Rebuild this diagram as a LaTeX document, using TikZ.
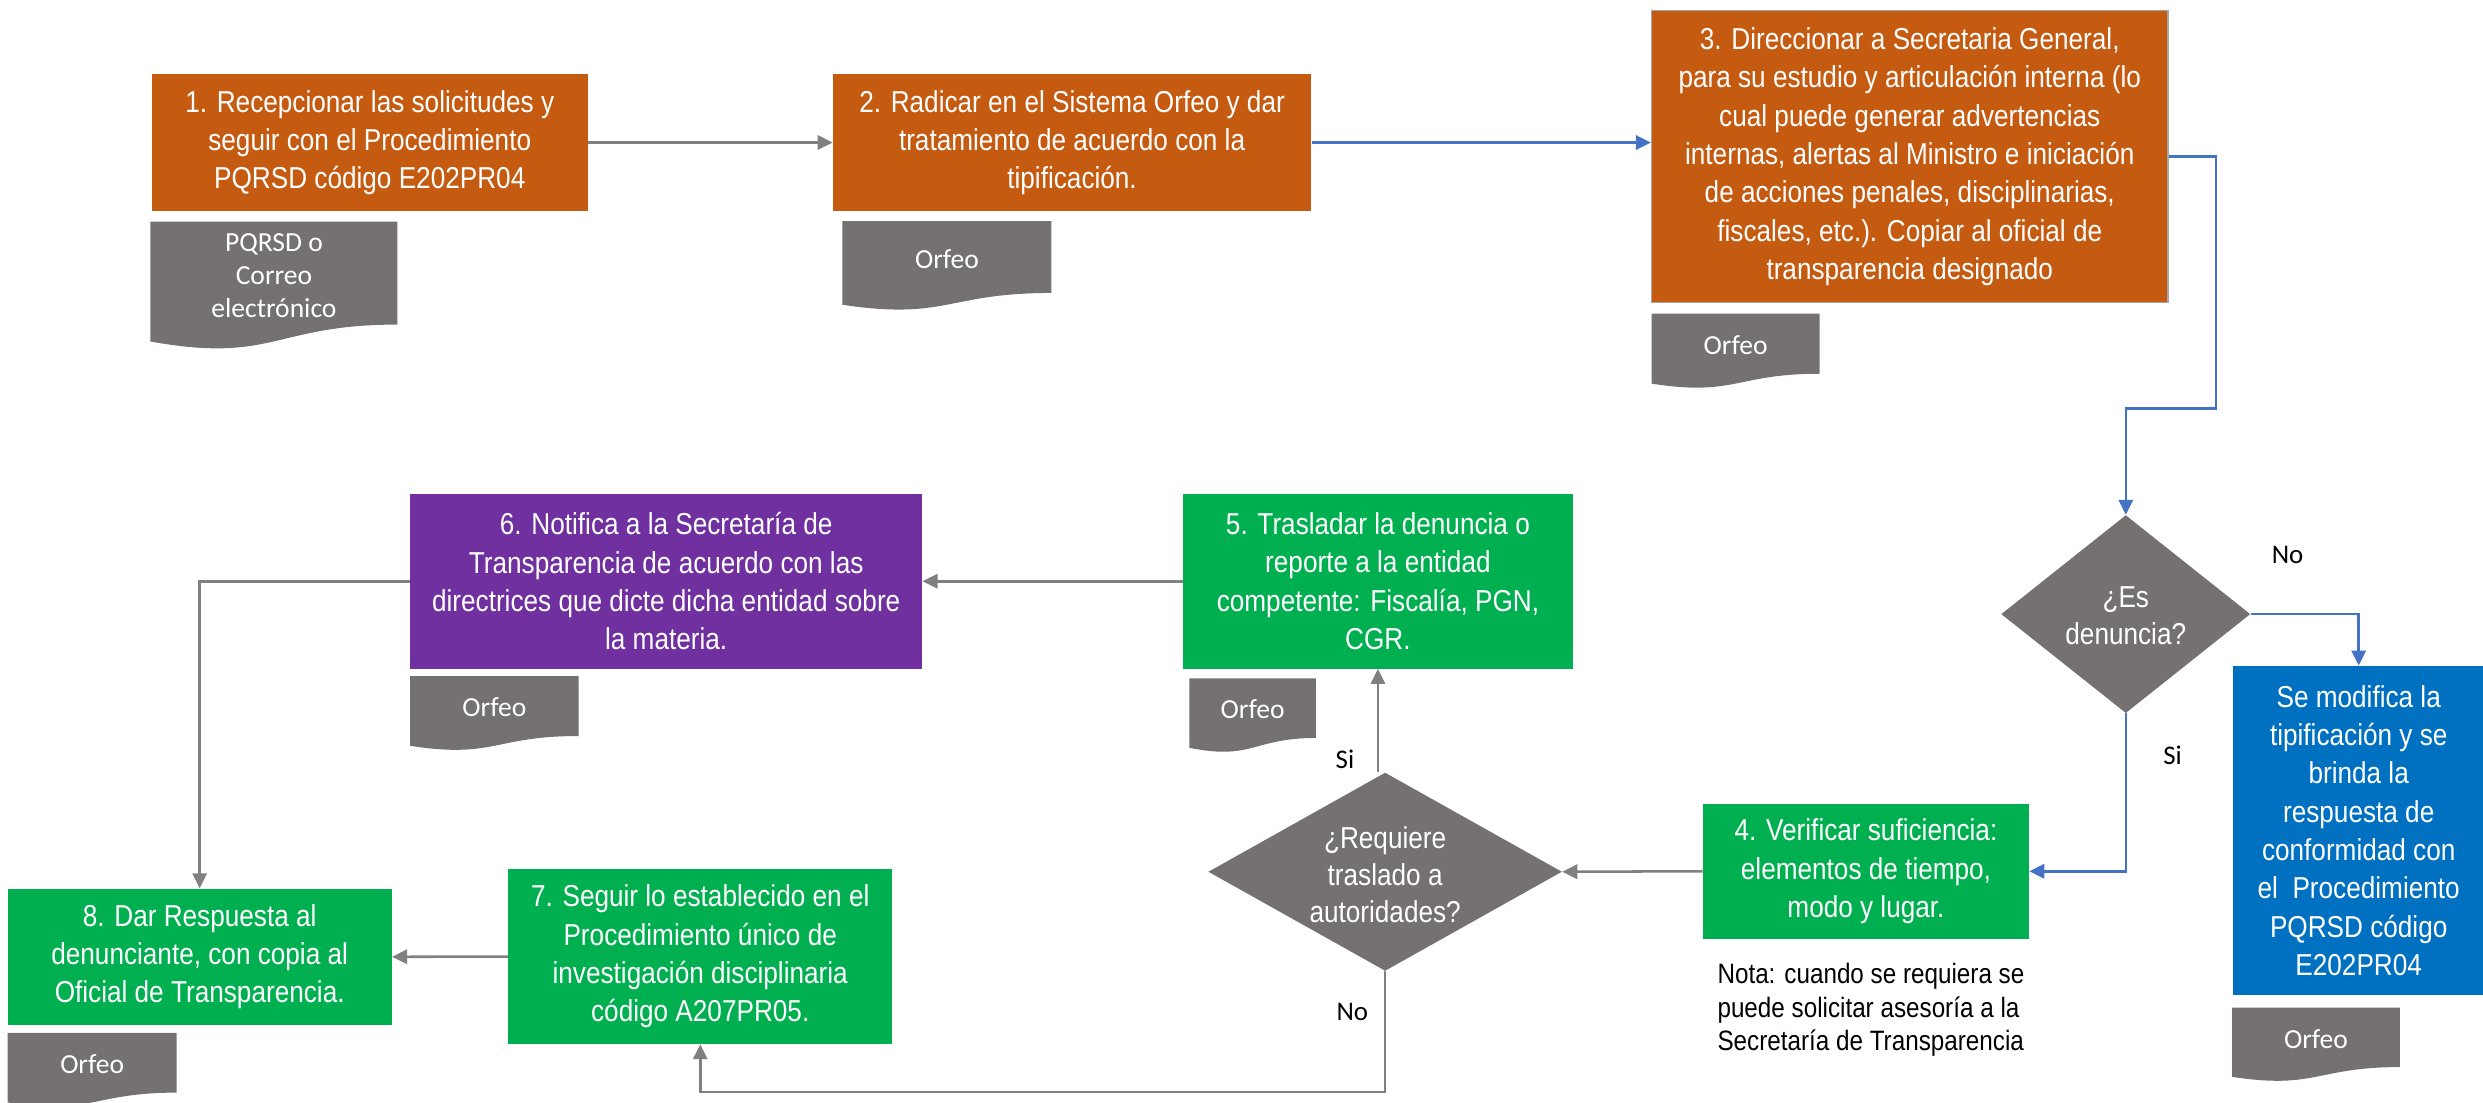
\documentclass[tikz,border=0pt]{standalone}
\usepackage{fontspec}
\setmainfont{Liberation Sans}
\newfontfamily\narrowfont{Liberation Sans}[FakeStretch=0.865]
\newfontfamily\calfont{Carlito}
\usetikzlibrary{arrows.meta,shapes.geometric}
\definecolor{corange}{HTML}{C55A11}
\definecolor{cgreen}{HTML}{00B050}
\definecolor{cpurple}{HTML}{7030A0}
\definecolor{cblue}{HTML}{0070C0}
\definecolor{cgray}{HTML}{767171}
\definecolor{carrowgray}{HTML}{808080}
\definecolor{carrowblue}{HTML}{4472C4}
\newcommand\docshape[6]{%
  \fill[cgray] (#2,#3) -- (#2+#4,#3) -- (#2+#4,#3+0.802*#5)
    .. controls (#2+0.5*#4,#3+0.802*#5) and (#2+0.5*#4,#3+1.1075*#5) .. (#2,#3+0.934*#5) -- cycle;
  \node[doctext] (#1) at (#2+0.5*#4,#3+0.42*#5) {#6};
}
\begin{document}
\begin{tikzpicture}[x=1pt,y=-1pt,
  box/.style={rectangle, inner sep=0pt, text=white, align=center,
    font=\narrowfont\fontsize{19.1}{24.2}\selectfont},
  dia/.style={diamond, fill=cgray, inner sep=0pt},
  diatext/.style={inner sep=0pt, text=white, align=center,
    font=\narrowfont\fontsize{19.1}{23.6}\selectfont},
  doctext/.style={inner sep=0pt, text=white, align=center,
    font=\calfont\fontsize{17.4}{20.8}\selectfont},
  lbl/.style={inner sep=0pt, text=black, font=\calfont\fontsize{17}{20}\selectfont},
  nota/.style={inner sep=0pt, text=black, align=left,
    font=\narrowfont\fontsize{17.7}{21.3}\selectfont},
  garr/.style={draw=carrowgray, line width=1.6pt, -{Triangle[length=9.5pt,width=9pt]}},
  barr/.style={draw=carrowblue, line width=1.6pt, -{Triangle[length=9.5pt,width=9pt]}}
]
\path[use as bounding box, fill=white] (0,0) rectangle (1568,696);
\clip (0,0) rectangle (1568,696);

% process boxes
\node[box, fill=corange, minimum width=275, minimum height=86] (b1) at (233.5,90)
  {1. Recepcionar las solicitudes y\\seguir con el Procedimiento\\PQRSD código E202PR04};
\node[box, fill=corange, minimum width=302, minimum height=86] (b2) at (677,90)
  {2. Radicar en el Sistema Orfeo y dar\\tratamiento de acuerdo con la\\tipificación.};
\node[box, fill=corange, draw=gray!70, line width=1pt, minimum width=326, minimum height=184.3] (b3) at (1206,98.9)
  {3. Direccionar a Secretaria General,\\para su estudio y articulación interna (lo\\cual puede generar advertencias\\internas, alertas al Ministro e iniciación\\de acciones penales, disciplinarias,\\fiscales, etc.). Copiar al oficial de\\transparencia designado};
\node[box, fill=cblue, minimum width=159, minimum height=208] (bb) at (1489.5,524.5)
  {Se modifica la\\tipificación y se\\brinda la\\respuesta de\\conformidad con\\el\ \ Procedimiento\\PQRSD código\\E202PR04};
\node[box, fill=cgreen, minimum width=205.9, minimum height=85.6] (b4) at (1178.35,550.2)
  {4. Verificar suficiencia:\\elementos de tiempo,\\modo y lugar.};
\node[box, fill=cgreen, minimum width=246.3, minimum height=110.3] (b5) at (870.15,367.05)
  {5. Trasladar la denuncia o\\reporte a la entidad\\competente: Fiscalía, PGN,\\CGR.};
\node[box, fill=cpurple, minimum width=323.4, minimum height=110.3] (b6) at (420.7,367.05)
  {6. Notifica a la Secretaría de\\Transparencia de acuerdo con las\\directrices que dicte dicha entidad sobre\\la materia.};
\node[box, fill=cgreen, minimum width=242.6, minimum height=110.2] (b7) at (442.2,604.1)
  {7. Seguir lo establecido en el\\Procedimiento único de\\investigación disciplinaria\\código A207PR05.};
\node[box, fill=cgreen, minimum width=242.6, minimum height=86] (b8) at (126.1,604.2)
  {8. Dar Respuesta al\\denunciante, con copia al\\Oficial de Transparencia.};

% decisions
\node[dia, minimum width=157.3, minimum height=125] (d1) at (1342.4,387.8) {};
\node[diatext] (d1t) at (1342.4,389) {¿Es\\denuncia?};
\node[dia, minimum width=223.3, minimum height=125.2] (d2) at (874.7,550.5) {};
\node[diatext] (d2t) at (874.7,552.4) {¿Requiere\\traslado a\\autoridades?};

% note
\node[nota, anchor=west] (nt) at (1084.4,637.7)
  {Nota: cuando se requiera se\\puede solicitar asesoría a la\\Secretaría de Transparencia};

% documents
\docshape{doc1}{95}{140}{156}{81}{PQRSD o\\Correo\\electrónico}
\docshape{doc2}{532}{139.6}{132}{56.6}{Orfeo}
\docshape{doc3}{1043}{198}{106}{47.4}{Orfeo}
\docshape{doc5}{751}{428.4}{80}{46.9}{Orfeo}
\docshape{doc6}{259}{427}{106.4}{47.1}{Orfeo}
\docshape{doc8}{4.8}{652.2}{106.8}{47.1}{Orfeo}
\docshape{doc9}{1409.6}{636.3}{105.9}{46.8}{Orfeo}

% connectors
\draw[garr] (b1.east) -- (b2.west);
\draw[barr] (b2.east) -- (b2.east -| b3.west);
\draw[barr] (b3.east) -- ++(30,0) |- ([yshift=67.3pt]d1.north) -- (d1.north);
\draw[barr] (d1.east) -| (bb.north);
\draw[barr] (d1.south) |- (b4.east);
\draw[garr] (b4.west) -- (d2.east);
\draw[garr] (d2.north -| b5.south) -- (b5.south);
\draw[garr] (b5.west) -- (b6.east);
\draw[garr] (b6.west) -| (b8.north);
\draw[garr] (d2.south) -- ++(0,76.3) -| (b7.south);
\draw[garr] (b7.west) -- (b8.east);

% labels
\node[lbl] (lno1) at (1444.6,350.5) {No};
\node[lbl] (lsi1) at (1372,476.8) {Si};
\node[lbl] (lsi2) at (849.3,479.8) {Si};
\node[lbl] (lno2) at (854,639) {No};
\end{tikzpicture}
\end{document}
